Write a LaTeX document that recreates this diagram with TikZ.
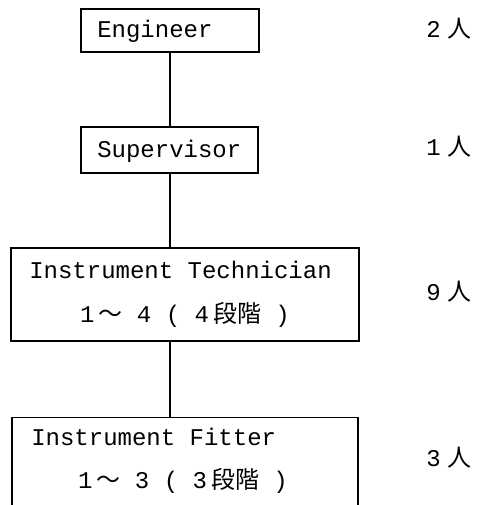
\documentclass[tikz,border=0pt]{standalone}
\usepackage{fontspec}
\setmainfont{Liberation Mono}
\newfontfamily\jp{Noto Sans CJK JP}
\usepackage{tikz}

\begin{document}
\begin{tikzpicture}[x=0.75pt, y=-0.75pt, every node/.style={font=\fontsize{18}{20}\selectfont},
    post/.style={draw, line width=0.8pt, inner sep=0pt},
    txt/.style={inner sep=0pt, anchor=base west},
    grade/.style={inner sep=0pt, anchor=base},
    link/.style={line width=0.9pt}]
            \path[clip] (0,0) rectangle (476,505);
            % boxes
            \node[post, minimum width=133.5pt, minimum height=32.25pt] (eng) at (170,30.5) {};
            \node[post, minimum width=132.75pt, minimum height=34.5pt] (sup) at (169.5,150) {};
            \node[post, minimum width=261pt, minimum height=69.75pt] (tech) at (185,294.5) {};
            \node[post, minimum width=259.5pt, minimum height=77pt] (fit) at (185,468.5) {};
            % texts
            \node[txt] (engtxt) at (97,38) {Engineer};
            \node[txt] (suptxt) at (97,158) {Supervisor};
            \node[txt] (techname) at (29,278) {Instrument Technician};
            \node[grade] (techgrade) at (185,322) {1\hspace{3pt}{\jp 〜}\ 4 ( 4\hspace{3pt}{\jp 段階} )};
            \node[txt] (fitname) at (31,445) {Instrument Fitter};
            \node[grade] (fitgrade) at (183,488) {1\hspace{3pt}{\jp 〜}\ 3 ( 3\hspace{3pt}{\jp 段階} )};
            % head counts
            \node[txt] (engnum) at (426,38) {2\hspace{5pt}{\jp 人}};
            \node[txt] (supnum) at (426,156) {1\hspace{5pt}{\jp 人}};
            \node[txt] (technum) at (426,300) {9\hspace{5pt}{\jp 人}};
            \node[txt] (fitnum) at (426,466) {3\hspace{5pt}{\jp 人}};
            % links
            \draw[link] (eng.south) -- (sup.north -| eng.south);
            \draw[link] (sup.south -| eng.south) -- (tech.north -| eng.south);
            \draw[link] (tech.south -| eng.south) -- (fit.north -| eng.south);
        \end{tikzpicture}
\end{document}
